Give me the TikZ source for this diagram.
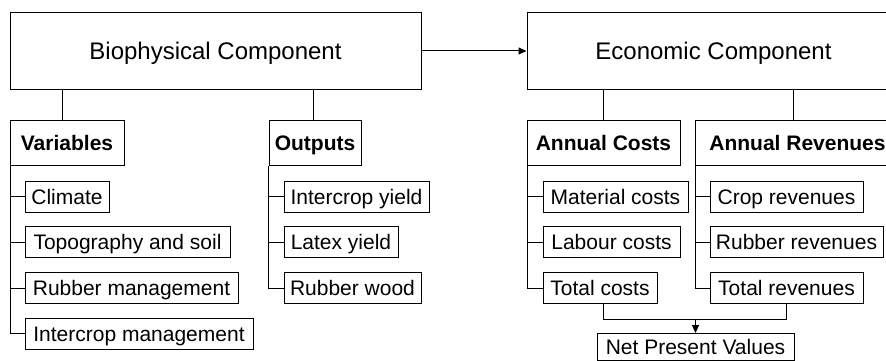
\documentclass[tikz,border=0pt]{standalone}
\usepackage{fontspec}
\setmainfont{Liberation Sans}
\usetikzlibrary{arrows.meta}
\begin{document}
\begin{tikzpicture}[x=1pt,y=-1pt,
  box/.style={draw,line width=1pt,inner sep=0pt,anchor=center,text height=15pt,text depth=0pt},
  big/.style={box,font=\fontsize{24}{28}\selectfont,minimum height=76pt,text height=17.2pt},
  head/.style={box,font=\fontsize{21}{25}\selectfont\bfseries,minimum height=45pt},
  item/.style={box,font=\fontsize{21}{25}\selectfont,minimum height=31pt},
  link/.style={line width=1pt},
  arr/.style={link,-{Triangle[length=8pt,width=7pt]}}]
\useasboundingbox (0,0) rectangle (886,361);
\fill[white] (0,0) rectangle (886,361);
% top components
\node[big,minimum width=411pt] (bio) at (215.5,51) {Biophysical Component};
\node[big,minimum width=373pt] (eco) at (713.5,51) {Economic Component};
% headers
\node[head,minimum width=114pt] (var) at (67,142.5) {Variables};
\node[head,minimum width=92pt] (out) at (315,142.5) {Outputs};
\node[head,minimum width=153pt] (acost) at (603.5,142.5) {Annual Costs};
\node[head,minimum width=205pt] (arev) at (797.5,142.5) {Annual Revenues};
% variables
\node[item,minimum width=84pt] (climate) at (67,196.5) {Climate};
\node[item,minimum width=205pt] (topo) at (127.5,242) {Topography and soil};
\node[item,minimum width=213pt] (rubm) at (131.5,288) {Rubber management};
\node[item,minimum width=228pt] (intm) at (139,333.5) {Intercrop management};
% outputs
\node[item,minimum width=145pt] (icy) at (356.5,196.5) {Intercrop yield};
\node[item,minimum width=114pt] (lat) at (341,242) {Latex yield};
\node[item,minimum width=137pt] (rw) at (352.5,288) {Rubber wood};
% costs
\node[item,minimum width=145pt] (mat) at (615.5,196.5) {Material costs};
\node[item,minimum width=137pt] (lab) at (611.5,242) {Labour costs};
\node[item,minimum width=114pt] (tot) at (600,288) {Total costs};
% revenues
\node[item,minimum width=153pt] (crop) at (786.5,196.5) {Crop revenues};
\node[item,minimum width=173pt] (rrev) at (796.5,242) {Rubber revenues};
\node[item,minimum width=153pt] (trev) at (786.5,288) {Total revenues};
% NPV
\node[box,font=\fontsize{21}{25}\selectfont,minimum width=197pt,minimum height=26.5pt] (npv) at (695.5,346.75) {Net Present Values};
% main arrow
\draw[arr] (bio.east) -- (eco.west);
% component to headers
\draw[link] ([xshift=53pt]var.north west) -- ([xshift=53pt]var.north west |- bio.south);
\draw[link] ([xshift=45pt]out.north west) -- ([xshift=45pt]out.north west |- bio.south);
\draw[link] (acost.north) -- (acost.north |- eco.south);
\draw[link] ([xshift=99pt]arev.north west) -- ([xshift=99pt]arev.north west |- eco.south);
% spines
\coordinate (vs) at ([xshift=1pt]var.south west);
\draw[link] (vs) |- (intm.west);
\foreach \n in {climate,topo,rubm} \draw[link] (\n.west) -- (\n.west -| vs);
\coordinate (os) at (out.south west);
\draw[link] (os) |- (rw.west);
\foreach \n in {icy,lat} \draw[link] (\n.west) -- (\n.west -| os);
\coordinate (cs) at ([xshift=1pt]acost.south west);
\draw[link] (cs) |- (tot.west);
\foreach \n in {mat,lab} \draw[link] (\n.west) -- (\n.west -| cs);
\coordinate (rs) at ([xshift=1pt]arev.south west);
\draw[link] (rs) |- (trev.west);
\foreach \n in {crop,rrev} \draw[link] (\n.west) -- (\n.west -| rs);
% to NPV
\coordinate (jl) at ([xshift=3pt]tot.south);
\draw[link] (jl) -- ++(0,15) coordinate (jb) -| (trev.south);
\draw[arr] (jb -| npv.north) -- (npv.north);
\end{tikzpicture}
\end{document}
